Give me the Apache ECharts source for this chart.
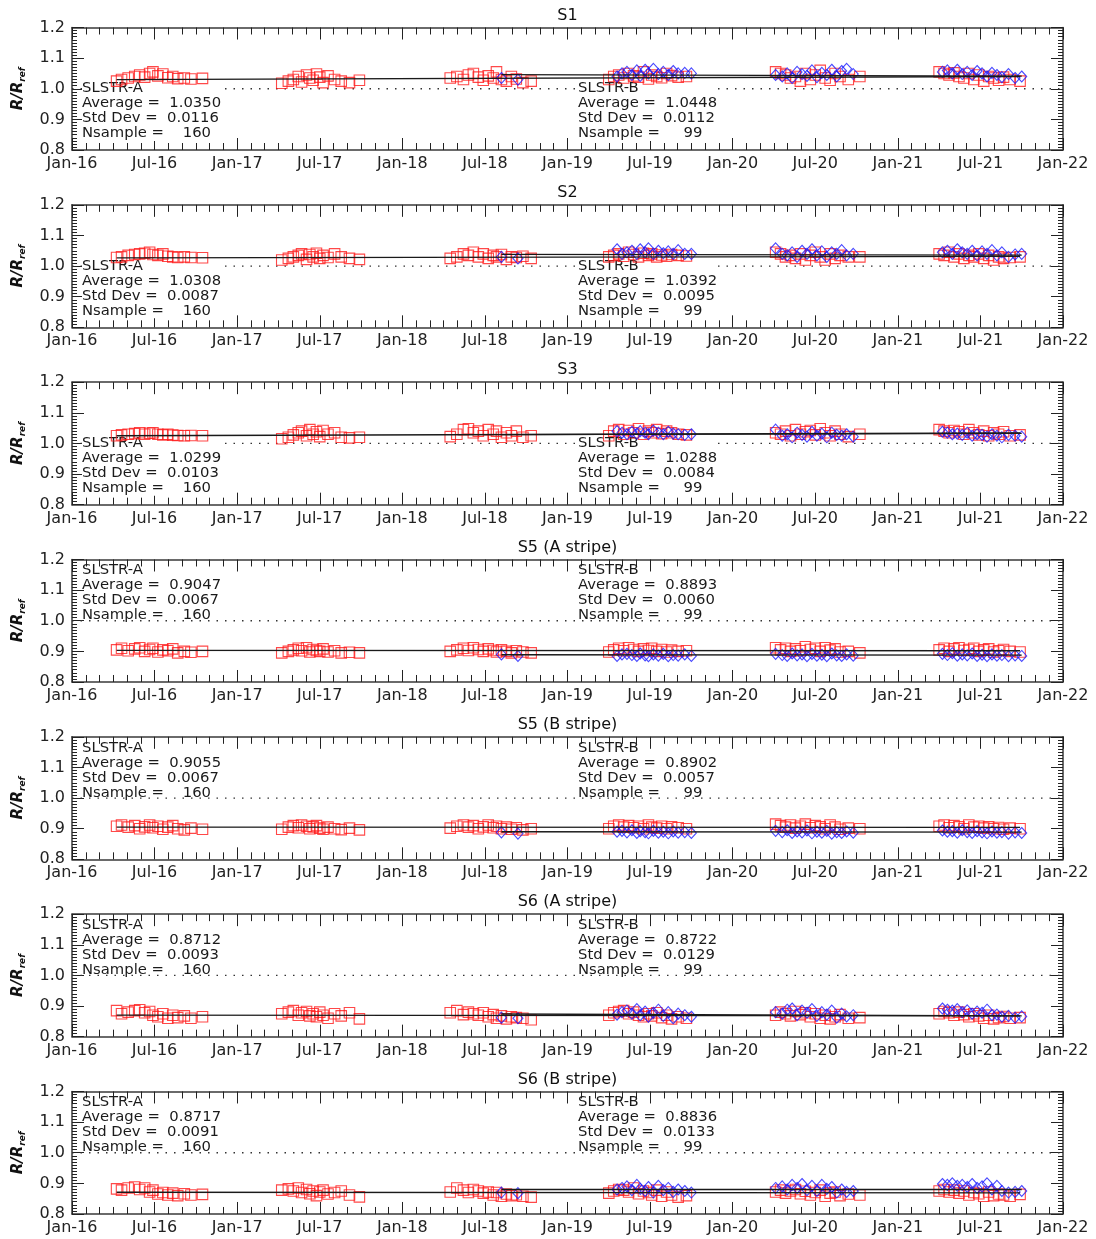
<!DOCTYPE html>
<html><head><meta charset="utf-8">
<script src="https://cdn.jsdelivr.net/npm/echarts@6/dist/echarts.min.js"></script>
<style>html,body{margin:0;padding:0;background:#fff}#c{width:1096px;height:1239px}</style>
</head><body><div id="c"></div>
<script>
// ---------------- DATA ----------------
const panelTitles = ['S1','S2','S3','S5 (A stripe)','S5 (B stripe)','S6 (A stripe)','S6 (B stripe)'];
const xRange = [2016, 2022];
const yRange = [0.8, 1.2];
const refValue = 1.0;

// matchup dates (decimal year), shared by all bands
const dateA = [
 2016.27,2016.30,2016.34,2016.38,2016.41,2016.44,2016.47,2016.49,2016.52,2016.55,2016.58,2016.61,2016.64,2016.68,2016.72,2016.79,
 2017.27,2017.31,2017.34,2017.37,2017.39,2017.42,2017.44,2017.46,2017.48,2017.50,2017.52,2017.55,2017.59,2017.63,2017.68,2017.74,
 2018.29,2018.33,2018.37,2018.40,2018.43,2018.46,2018.49,2018.52,2018.55,2018.57,2018.60,2018.63,2018.66,2018.69,2018.73,2018.78,
 2019.25,2019.28,2019.31,2019.34,2019.37,2019.40,2019.43,2019.46,2019.49,2019.51,2019.54,2019.57,2019.60,2019.63,2019.67,2019.72,
 2020.26,2020.29,2020.32,2020.35,2020.38,2020.41,2020.44,2020.47,2020.50,2020.53,2020.56,2020.59,2020.62,2020.65,2020.70,2020.77,
 2021.25,2021.28,2021.31,2021.34,2021.37,2021.40,2021.43,2021.46,2021.49,2021.52,2021.55,2021.58,2021.61,2021.64,2021.68,2021.74];
const dateB = [
 2018.60,2018.70,
 2019.30,2019.33,2019.36,2019.39,2019.42,2019.44,2019.47,2019.49,2019.52,2019.55,2019.58,2019.61,2019.64,2019.67,2019.71,2019.75,
 2020.26,2020.30,2020.33,2020.36,2020.39,2020.42,2020.45,2020.48,2020.51,2020.54,2020.57,2020.60,2020.63,2020.66,2020.69,2020.73,
 2021.27,2021.30,2021.33,2021.36,2021.39,2021.42,2021.45,2021.48,2021.51,2021.54,2021.57,2021.60,2021.63,2021.67,2021.71,2021.75];

// SLSTR-A ratios per band
const ratioA_S1 = [
 1.025,1.030,1.035,1.040,1.045,1.038,1.050,1.055,1.042,1.048,1.036,1.040,1.033,1.035,1.032,1.034,
 1.018,1.025,1.030,1.040,1.022,1.045,1.035,1.028,1.048,1.038,1.020,1.042,1.030,1.025,1.020,1.028,
 1.035,1.040,1.030,1.045,1.050,1.038,1.028,1.042,1.035,1.055,1.030,1.025,1.040,1.032,1.020,1.025,
 1.030,1.040,1.045,1.035,1.050,1.042,1.038,1.055,1.032,1.045,1.040,1.036,1.050,1.043,1.038,1.040,
 1.055,1.050,1.045,1.035,1.040,1.025,1.050,1.030,1.045,1.060,1.035,1.028,1.050,1.040,1.030,1.040,
 1.055,1.050,1.045,1.052,1.040,1.035,1.050,1.030,1.045,1.025,1.040,1.035,1.028,1.038,1.030,1.025];
const ratioA_S2 = [
 1.028,1.030,1.035,1.038,1.040,1.042,1.045,1.038,1.035,1.040,1.032,1.030,1.028,1.030,1.028,1.027,
 1.020,1.025,1.030,1.035,1.040,1.022,1.038,1.030,1.042,1.025,1.035,1.028,1.040,1.030,1.025,1.022,
 1.025,1.030,1.040,1.035,1.045,1.030,1.040,1.025,1.035,1.030,1.038,1.022,1.030,1.028,1.032,1.025,
 1.030,1.035,1.040,1.032,1.045,1.038,1.030,1.042,1.035,1.040,1.030,1.036,1.032,1.038,1.035,1.033,
 1.045,1.040,1.030,1.035,1.025,1.040,1.020,1.035,1.045,1.030,1.020,1.040,1.025,1.035,1.030,1.030,
 1.040,1.035,1.045,1.030,1.040,1.025,1.035,1.030,1.040,1.025,1.035,1.020,1.030,1.025,1.028,1.030];
const ratioA_S3 = [
 1.025,1.028,1.030,1.032,1.035,1.030,1.033,1.035,1.030,1.028,1.030,1.027,1.026,1.025,1.026,1.025,
 1.015,1.020,1.028,1.035,1.040,1.025,1.045,1.030,1.038,1.022,1.042,1.030,1.035,1.020,1.018,1.020,
 1.022,1.030,1.045,1.048,1.035,1.040,1.025,1.045,1.030,1.040,1.020,1.035,1.025,1.040,1.020,1.025,
 1.025,1.040,1.045,1.030,1.042,1.035,1.048,1.030,1.040,1.035,1.045,1.032,1.040,1.035,1.030,1.028,
 1.035,1.030,1.040,1.025,1.045,1.030,1.038,1.042,1.028,1.048,1.035,1.025,1.040,1.030,1.022,1.030,
 1.045,1.040,1.035,1.042,1.038,1.030,1.045,1.035,1.028,1.040,1.025,1.035,1.030,1.038,1.025,1.028];
const ratioA_S5A = [
 0.905,0.910,0.902,0.908,0.912,0.900,0.906,0.910,0.898,0.905,0.902,0.908,0.895,0.900,0.897,0.900,
 0.895,0.900,0.905,0.910,0.902,0.912,0.898,0.906,0.903,0.900,0.908,0.898,0.902,0.895,0.897,0.895,
 0.900,0.905,0.910,0.903,0.912,0.906,0.900,0.908,0.903,0.898,0.905,0.900,0.895,0.902,0.898,0.895,
 0.898,0.905,0.910,0.902,0.912,0.906,0.900,0.908,0.903,0.910,0.900,0.906,0.898,0.904,0.900,0.902,
 0.912,0.905,0.910,0.900,0.908,0.902,0.915,0.906,0.910,0.900,0.912,0.904,0.908,0.898,0.900,0.895,
 0.905,0.910,0.900,0.908,0.912,0.903,0.906,0.910,0.900,0.905,0.908,0.898,0.902,0.906,0.900,0.898];
const ratioA_S5B = [
 0.908,0.912,0.905,0.910,0.900,0.906,0.912,0.903,0.908,0.898,0.905,0.910,0.900,0.896,0.902,0.898,
 0.898,0.905,0.910,0.903,0.912,0.908,0.900,0.906,0.910,0.902,0.898,0.905,0.900,0.897,0.902,0.896,
 0.902,0.908,0.912,0.905,0.910,0.900,0.906,0.912,0.903,0.908,0.900,0.905,0.898,0.903,0.896,0.900,
 0.900,0.908,0.912,0.905,0.910,0.903,0.908,0.900,0.912,0.905,0.902,0.908,0.900,0.906,0.903,0.900,
 0.915,0.910,0.905,0.912,0.902,0.908,0.915,0.903,0.910,0.906,0.900,0.912,0.905,0.898,0.902,0.900,
 0.908,0.912,0.903,0.910,0.906,0.900,0.912,0.905,0.908,0.902,0.906,0.900,0.904,0.898,0.902,0.900];
const ratioA_S6A = [
 0.885,0.875,0.880,0.885,0.888,0.878,0.882,0.870,0.865,0.875,0.860,0.870,0.862,0.868,0.860,0.865,
 0.875,0.880,0.885,0.870,0.878,0.882,0.868,0.875,0.865,0.880,0.870,0.860,0.875,0.868,0.878,0.858,
 0.878,0.885,0.872,0.880,0.875,0.870,0.878,0.865,0.872,0.860,0.868,0.858,0.865,0.862,0.860,0.855,
 0.870,0.878,0.882,0.885,0.875,0.880,0.870,0.865,0.875,0.868,0.878,0.862,0.870,0.858,0.865,0.860,
 0.870,0.880,0.875,0.868,0.882,0.872,0.878,0.865,0.875,0.860,0.870,0.858,0.865,0.872,0.860,0.862,
 0.875,0.882,0.878,0.870,0.880,0.872,0.865,0.875,0.868,0.860,0.870,0.858,0.862,0.866,0.860,0.862];
const ratioA_S6B = [
 0.882,0.878,0.885,0.888,0.880,0.885,0.872,0.878,0.865,0.870,0.862,0.868,0.860,0.866,0.862,0.864,
 0.878,0.882,0.875,0.885,0.870,0.880,0.866,0.875,0.860,0.872,0.878,0.865,0.870,0.875,0.862,0.856,
 0.872,0.885,0.878,0.870,0.880,0.875,0.868,0.872,0.862,0.870,0.858,0.865,0.860,0.863,0.858,0.855,
 0.868,0.875,0.880,0.878,0.872,0.885,0.866,0.875,0.870,0.862,0.878,0.858,0.872,0.862,0.855,0.860,
 0.872,0.878,0.868,0.875,0.880,0.866,0.874,0.862,0.870,0.878,0.858,0.868,0.872,0.860,0.865,0.862,
 0.875,0.880,0.872,0.878,0.868,0.875,0.862,0.870,0.866,0.858,0.872,0.860,0.865,0.862,0.858,0.864];

// SLSTR-B ratios per band (null = not visible)
const ratioB_S1 = [
 1.035,1.030,
 1.040,1.050,1.055,1.045,1.060,1.042,1.062,1.050,1.065,1.048,1.055,1.045,1.058,1.050,1.052,1.050,
 1.045,1.040,1.050,1.035,1.055,1.048,1.042,1.060,1.038,1.052,1.045,1.062,1.040,1.058,1.065,1.048,
 1.055,1.060,1.050,1.062,1.048,1.055,1.045,1.058,1.050,1.040,1.052,1.045,1.038,1.048,1.035,1.040];
const ratioB_S2 = [
 1.030,1.025,
 1.055,1.040,1.045,1.050,1.040,1.055,1.045,1.058,1.040,1.050,1.042,1.048,1.040,1.052,1.040,1.040,
 1.058,1.040,1.035,1.045,1.030,1.050,1.040,1.055,1.035,1.048,1.030,1.045,1.040,1.052,1.035,1.040,
 1.045,1.050,1.040,1.055,1.045,1.040,1.050,1.035,1.048,1.040,1.052,1.035,1.045,1.030,1.038,1.040];
const ratioB_S3 = [
 null,null,
 1.040,1.035,1.030,1.038,1.032,1.040,1.035,1.030,1.042,1.035,1.030,1.038,1.032,1.030,1.028,1.030,
 1.045,1.025,1.030,1.020,1.035,1.028,1.022,1.038,1.025,1.032,1.020,1.035,1.028,1.025,1.030,1.022,
 1.038,1.035,1.030,1.032,1.028,1.035,1.025,1.030,1.028,1.022,1.030,1.025,1.020,1.028,1.025,1.022];
const ratioB_S5A = [
 0.890,0.885,
 0.885,0.890,0.892,0.888,0.885,0.893,0.887,0.884,0.890,0.886,0.892,0.884,0.888,0.886,0.890,0.885,
 0.892,0.888,0.885,0.893,0.887,0.890,0.884,0.892,0.886,0.889,0.884,0.893,0.887,0.885,0.890,0.886,
 0.892,0.888,0.894,0.886,0.890,0.887,0.893,0.885,0.889,0.884,0.890,0.886,0.888,0.884,0.887,0.885];
const ratioB_S5B = [
 0.888,0.884,
 0.890,0.893,0.888,0.895,0.886,0.892,0.889,0.885,0.893,0.887,0.890,0.885,0.891,0.887,0.889,0.886,
 0.893,0.889,0.895,0.886,0.891,0.888,0.894,0.885,0.890,0.887,0.893,0.884,0.889,0.886,0.891,0.887,
 0.894,0.890,0.892,0.887,0.895,0.889,0.886,0.892,0.888,0.885,0.891,0.887,0.889,0.884,0.888,0.886];
const ratioB_S6A = [
 0.862,0.860,
 0.872,0.880,0.885,0.875,0.890,0.870,0.882,0.865,0.878,0.888,0.868,0.880,0.860,0.875,0.870,0.865,
 0.880,0.875,0.888,0.892,0.870,0.885,0.878,0.890,0.868,0.880,0.872,0.885,0.862,0.875,0.866,0.870,
 0.892,0.888,0.885,0.890,0.880,0.886,0.875,0.882,0.878,0.888,0.870,0.872,0.865,0.868,0.862,0.866];
const ratioB_S6B = [
 0.870,0.868,
 0.880,0.885,0.890,0.878,0.895,0.882,0.875,0.888,0.870,0.892,0.878,0.885,0.872,0.880,0.875,0.870,
 0.885,0.890,0.880,0.895,0.885,0.898,0.878,0.892,0.875,0.895,0.882,0.888,0.870,0.880,0.872,0.875,
 0.898,0.895,0.900,0.892,0.895,0.888,0.898,0.885,0.890,0.900,0.880,0.892,0.875,0.870,0.872,0.875];

// linear fit lines (start / end value) per band
const fitXA = [2016.27, 2021.74];
const fitXB = [2018.60, 2021.75];
const fitA = [[1.030,1.040],[1.027,1.032],[1.025,1.034],[0.903,0.902],[0.905,0.904],[0.870,0.868],[0.871,0.869]];
const fitB = [[1.046,1.041],[1.038,1.036],[1.029,1.033],[0.889,0.888],[0.890,0.889],[0.874,0.868],[0.880,0.880]];

// statistics text
const avgA = ['1.0350','1.0308','1.0299','0.9047','0.9055','0.8712','0.8717'];
const sdA  = ['0.0116','0.0087','0.0103','0.0067','0.0067','0.0093','0.0091'];
const nA   = ['160','160','160','160','160','160','160'];
const avgB = ['1.0448','1.0392','1.0288','0.8893','0.8902','0.8722','0.8836'];
const sdB  = ['0.0112','0.0095','0.0084','0.0060','0.0057','0.0129','0.0133'];
const nB   = ['99','99','99','99','99','99','99'];

const ratioA = [ratioA_S1,ratioA_S2,ratioA_S3,ratioA_S5A,ratioA_S5B,ratioA_S6A,ratioA_S6B];
const ratioB = [ratioB_S1,ratioB_S2,ratioB_S3,ratioB_S5A,ratioB_S5B,ratioB_S6A,ratioB_S6B];

// ---------------- CHART ----------------
const FONT = 'DejaVu Sans';
const GL = 72, GW = 991, GH = 122.5, GT0 = 27.5, GSTEP = 177.33;
const chart = echarts.init(document.getElementById('c'), null, {renderer:'canvas'});

const grids = [], xAxes = [], yAxes = [], series = [], graphics = [];
function xFmt(v){
  const y = Math.floor(v + 1e-6);
  const half = (v - y) > 0.25;
  return (half ? 'Jul-' : 'Jan-') + String(y).slice(2);
}
const axisLineStyle = {color:'#3a3a3a', width:1.5};
const tickStyle = {color:'#222', width:1};

for (let i = 0; i < 7; i++) {
  const top = GT0 + i * GSTEP;
  grids.push({left:GL, top:top, width:GW, height:GH, containLabel:false});
  const xBase = {
    type:'value', gridIndex:i, min:xRange[0], max:xRange[1], interval:0.5,
    splitLine:{show:false},
    axisLine:{show:true, onZero:false, lineStyle:axisLineStyle},
    axisTick:{show:true, inside:true, length:12, lineStyle:tickStyle},
    minorTick:{show:true, splitNumber:6, length:7, lineStyle:tickStyle},
    minorSplitLine:{show:false}
  };
  xAxes.push(Object.assign({}, xBase, {position:'bottom',
    axisLabel:{show:true, formatter:xFmt, fontFamily:FONT, fontSize:16, color:'#222', margin:6, showMinLabel:true, showMaxLabel:true}}));
  xAxes.push(Object.assign({}, xBase, {position:'top', axisLabel:{show:false}}));
  const yBase = {
    type:'value', gridIndex:i, min:yRange[0], max:yRange[1], interval:0.1,
    splitLine:{show:false},
    axisLine:{show:true, onZero:false, lineStyle:axisLineStyle},
    axisTick:{show:true, inside:true, length:12, lineStyle:tickStyle},
    minorTick:{show:true, splitNumber:10, length:5, lineStyle:tickStyle},
    minorSplitLine:{show:false}
  };
  yAxes.push(Object.assign({}, yBase, {position:'left',
    axisLabel:{show:true, formatter:v=>v.toFixed(1), fontFamily:FONT, fontSize:16, color:'#222', margin:7},
    name:'{a|R/R}{b|ref}', nameLocation:'middle', nameGap:45, nameRotate:90,
    nameTextStyle:{rich:{
      a:{fontFamily:FONT, fontSize:15, fontWeight:'bold', fontStyle:'italic', color:'#111'},
      b:{fontFamily:FONT, fontSize:9, fontWeight:'bold', fontStyle:'italic', color:'#111', padding:[8,0,0,0]}
    }}}));
  yAxes.push(Object.assign({}, yBase, {position:'right', axisLabel:{show:false}}));

  const xi = 2*i, yi = 2*i;
  // reference line
  series.push({type:'line', xAxisIndex:xi, yAxisIndex:yi, z:1, silent:true, symbol:'none',
    data:[[xRange[0], refValue],[xRange[1], refValue]],
    lineStyle:{color:'#333', width:1.3, type:[1.5,7]}});
  // SLSTR-A squares
  series.push({type:'scatter', xAxisIndex:xi, yAxisIndex:yi, z:3, symbol:'rect', symbolSize:10.5,
    data: dateA.map((d,k)=>[d, ratioA[i][k]]).filter(p=>p[1]!=null),
    itemStyle:{color:'rgba(0,0,0,0)', borderColor:'#ff1a1a', borderWidth:1.1}});
  // SLSTR-B diamonds
  series.push({type:'scatter', xAxisIndex:xi, yAxisIndex:yi, z:4, symbol:'diamond', symbolSize:[10,11],
    data: dateB.map((d,k)=>[d, ratioB[i][k]]).filter(p=>p[1]!=null),
    itemStyle:{color:'rgba(0,0,0,0)', borderColor:'#1a1aff', borderWidth:1.1}});
  // fit lines
  series.push({type:'line', xAxisIndex:xi, yAxisIndex:yi, z:5, symbol:'none', silent:true,
    data:[[fitXA[0], fitA[i][0]],[fitXA[1], fitA[i][1]]], lineStyle:{color:'#1a1a1a', width:1.3}});
  series.push({type:'line', xAxisIndex:xi, yAxisIndex:yi, z:5, symbol:'none', silent:true,
    data:[[fitXB[0], fitB[i][0]],[fitXB[1], fitB[i][1]]], lineStyle:{color:'#1a1a1a', width:1.3}});

  // title
  graphics.push({type:'text', x:GL + GW/2, y:top - 12, z:10,
    style:{text:panelTitles[i], font:'16px "'+FONT+'"', fill:'#111', textAlign:'center', textVerticalAlign:'middle'}});
  // stats blocks
  const lowBlock = i < 3;
  const ty = lowBlock ? top + 53.5 : top + 3.5;
  const txtA = 'SLSTR-A\nAverage =  ' + avgA[i] + '\nStd Dev =  ' + sdA[i] + '\nNsample =    ' + nA[i];
  const txtB = 'SLSTR-B\nAverage =  ' + avgB[i] + '\nStd Dev =  ' + sdB[i] + '\nNsample =     ' + nB[i];
  [[82, txtA],[578, txtB]].forEach(([tx, t])=>{
    const st = {text:t, font:'14.8px "'+FONT+'"', fill:'#1a1a1a', lineHeight:15, textAlign:'left', textVerticalAlign:'top'};
    if (lowBlock) { st.backgroundColor = '#fff'; }
    graphics.push({type:'text', x:tx, y:ty, z:2, style:st});
  });
}

chart.setOption({
  animation:false,
  backgroundColor:'#fff',
  grid:grids, xAxis:xAxes, yAxis:yAxes, series:series,
  graphic:{elements:graphics}
});
</script></body></html>
